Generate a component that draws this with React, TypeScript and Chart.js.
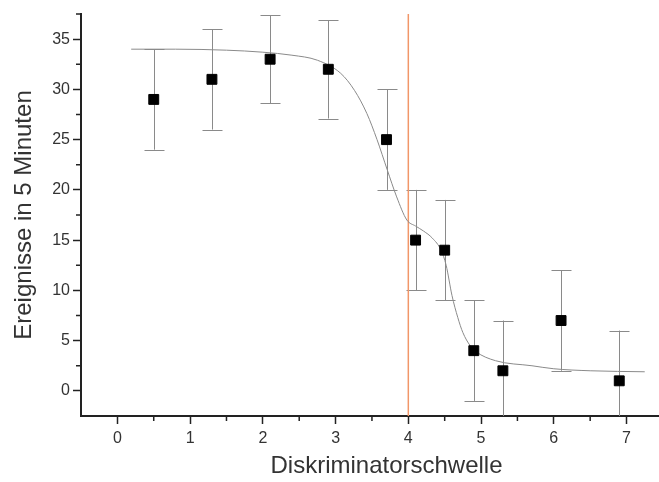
import React, { useEffect, useRef } from "react";
import { Chart, registerables } from "chart.js";

Chart.register(...registerables);

// ---- data ----
const xValues = [0.5, 1.3, 2.1, 2.9, 3.7, 4.1, 4.5, 4.9, 5.3, 6.1, 6.9];
const yValues = [29, 31, 33, 32, 25, 15, 14, 4, 2, 7, 1];
const yErrors = [5, 5, 4.4, 4.9, 5, 5, 5, 5, 5, 5, 5];

const fitX = [0.19, 0.8, 1.5, 2.0, 2.4, 2.75, 3.07, 3.26, 3.43, 3.57, 3.71, 3.84, 3.98, 4.1, 4.21, 4.33, 4.45, 4.52, 4.6, 4.68, 4.75, 4.85, 4.93, 5.2, 5.7, 6.0, 6.5, 7.25];
const fitY = [34.0, 34.0, 33.9, 33.7, 33.4, 32.9, 31.6, 29.9, 27.6, 25.0, 22.0, 19.3, 17.0, 16.4, 15.9, 15.2, 14.0, 12.5, 9.5, 7.3, 5.8, 4.5, 3.9, 3.0, 2.5, 2.2, 2.0, 1.9];

const thresholdX = 4;

const xTickValues = [0, 1, 2, 3, 4, 5, 6, 7];
const yTickValues = [0, 5, 10, 15, 20, 25, 30, 35];
const xMinorTicks = [0.5, 1.5, 2.5, 3.5, 4.5, 5.5, 6.5, 7.5];
const yMinorTicks = [2.5, 7.5, 12.5, 17.5, 22.5, 27.5, 32.5, 37.5];

const X_MIN = -0.5;
const X_MAX = 7.9;
const Y_MIN = -2.5;
const Y_MAX = 37.5;

const xTitle = "Diskriminatorschwelle";
const yTitle = "Ereignisse in 5 Minuten";

const AXIS_COLOR = "#222";
const TEXT_COLOR = "#333";

const errorBarPlugin = {
  id: "errorBars",
  beforeDatasetsDraw(chart: any) {
    const { ctx, chartArea, scales } = chart;
    const xs = scales.x;
    const ys = scales.y;
    ctx.save();
    ctx.beginPath();
    ctx.rect(chartArea.left, chartArea.top - 1, chartArea.right - chartArea.left, chartArea.bottom - chartArea.top + 1);
    ctx.clip();
    ctx.strokeStyle = "#8a8a8a";
    ctx.lineWidth = 1;
    const cap = 10;
    xValues.forEach((xv, i) => {
      const px = Math.round(xs.getPixelForValue(xv)) + 0.5;
      const top = ys.getPixelForValue(yValues[i] + yErrors[i]);
      const bot = ys.getPixelForValue(yValues[i] - yErrors[i]);
      ctx.beginPath();
      ctx.moveTo(px, top);
      ctx.lineTo(px, bot);
      ctx.moveTo(px - cap, Math.round(top) + 0.5);
      ctx.lineTo(px + cap, Math.round(top) + 0.5);
      ctx.moveTo(px - cap, Math.round(bot) + 0.5);
      ctx.lineTo(px + cap, Math.round(bot) + 0.5);
      ctx.stroke();
    });
    ctx.restore();
  },
  afterDraw(chart: any) {
    const { ctx, chartArea, scales } = chart;
    const xs = scales.x;
    const ys = scales.y;
    ctx.save();
    ctx.strokeStyle = AXIS_COLOR;
    ctx.lineWidth = 1.5;
    const len = 5;
    ctx.beginPath();
    xMinorTicks.forEach((v) => {
      const px = xs.getPixelForValue(v);
      ctx.moveTo(px, chartArea.bottom);
      ctx.lineTo(px, chartArea.bottom + len);
    });
    yMinorTicks.forEach((v) => {
      const py = ys.getPixelForValue(v);
      ctx.moveTo(chartArea.left, py);
      ctx.lineTo(chartArea.left - len, py);
    });
    ctx.stroke();
    ctx.restore();
  },
};

export default function App() {
  const canvasRef = useRef<HTMLCanvasElement | null>(null);

  useEffect(() => {
    if (!canvasRef.current) return;
    const chart = new Chart(canvasRef.current, {
      type: "scatter",
      data: {
        datasets: [
          {
            label: "Messwerte",
            data: xValues.map((x, i) => ({ x, y: yValues[i] })),
            pointStyle: "rect",
            pointRadius: 7,
            pointBorderWidth: 1,
            backgroundColor: "#000",
            borderColor: "#000",
            showLine: false,
            order: 0,
          },
          {
            label: "Fit",
            type: "line",
            data: fitX.map((x, i) => ({ x, y: fitY[i] })),
            borderColor: "#8a8a8a",
            borderWidth: 1,
            pointRadius: 0,
            cubicInterpolationMode: "monotone",
            showLine: true,
            fill: false,
            order: 1,
          },
          {
            label: "Schwelle",
            type: "line",
            data: [
              { x: thresholdX, y: Y_MIN },
              { x: thresholdX, y: Y_MAX },
            ],
            borderColor: "rgb(242,150,105)",
            borderWidth: 1.5,
            pointRadius: 0,
            showLine: true,
            fill: false,
            order: 2,
          },
        ] as any,
      },
      options: {
        animation: false,
        responsive: false,
        maintainAspectRatio: false,
        layout: { padding: { top: 14, right: 2, left: 0, bottom: 0 } },
        plugins: {
          legend: { display: false },
          tooltip: { enabled: false },
        },
        scales: {
          x: {
            type: "linear",
            min: X_MIN,
            max: X_MAX,
            afterBuildTicks: (scale: any) => {
              scale.ticks = xTickValues.map((v) => ({ value: v }));
            },
            afterFit: (scale: any) => {
              scale.height = 66;
            },
            grid: {
              display: true,
              drawOnChartArea: false,
              drawTicks: true,
              tickLength: 8,
              tickWidth: 1.5,
              tickColor: AXIS_COLOR,
              color: AXIS_COLOR,
            },
            border: { display: true, color: AXIS_COLOR, width: 2 },
            ticks: {
              color: TEXT_COLOR,
              font: { family: "'Liberation Sans', Arial, sans-serif", size: 16 },
              padding: 5,
              maxRotation: 0,
              callback: (v: any) => String(v),
            },
            title: {
              display: true,
              text: xTitle,
              color: TEXT_COLOR,
              font: { family: "'Liberation Sans', Arial, sans-serif", size: 24 },
              padding: { top: 0, bottom: 1 },
            },
          },
          y: {
            type: "linear",
            min: Y_MIN,
            max: Y_MAX,
            afterBuildTicks: (scale: any) => {
              scale.ticks = yTickValues.map((v) => ({ value: v }));
            },
            afterFit: (scale: any) => {
              scale.width = 81;
            },
            grid: {
              display: true,
              drawOnChartArea: false,
              drawTicks: true,
              tickLength: 8,
              tickWidth: 1.5,
              tickColor: AXIS_COLOR,
              color: AXIS_COLOR,
            },
            border: { display: true, color: AXIS_COLOR, width: 2 },
            ticks: {
              color: TEXT_COLOR,
              font: { family: "'Liberation Sans', Arial, sans-serif", size: 16 },
              padding: 3,
              callback: (v: any) => String(v),
            },
            title: {
              display: true,
              text: yTitle,
              color: TEXT_COLOR,
              font: { family: "'Liberation Sans', Arial, sans-serif", size: 24 },
              padding: { top: 10, bottom: 0 },
            },
          },
        },
      },
      plugins: [errorBarPlugin],
    } as any);
    return () => chart.destroy();
  }, []);

  return (
    <div
      style={{
        position: "fixed",
        left: 0,
        top: 0,
        width: 659,
        height: 482,
        overflow: "hidden",
        background: "#fff",
      }}
    >
      <canvas ref={canvasRef} width={700} height={482} style={{ display: "block" }} />
    </div>
  );
}
